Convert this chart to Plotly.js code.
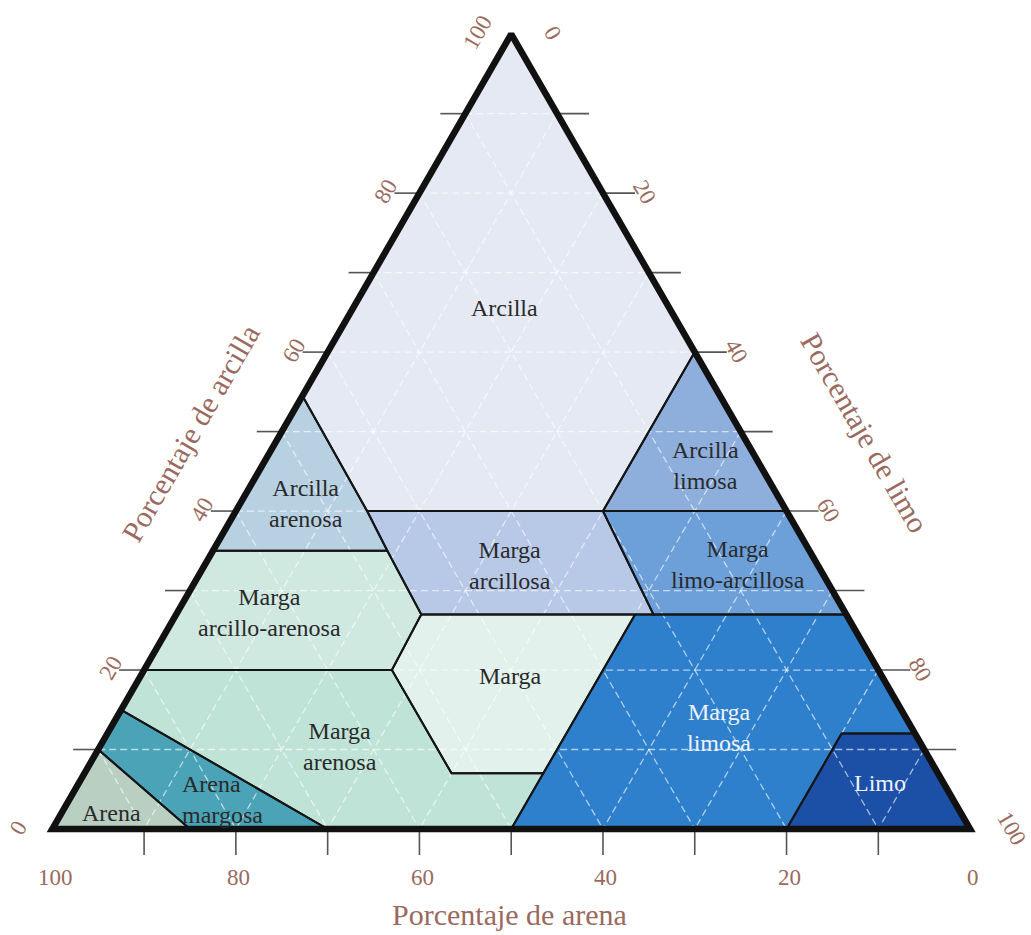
<!DOCTYPE html>
<html>
<head>
<meta charset="utf-8">
<script src="https://cdn.plot.ly/plotly-3.0.1.min.js"></script>
<style>html,body{margin:0;padding:0;background:#fff}#chart{width:1031px;height:935px}</style>
</head>
<body>
<div id="chart"></div>
<script>
// ---------- DATA: soil texture classes, vertices as (% arena, % arcilla); limo = 100 - arena - arcilla
const arcillaSand            = [45.5, 0, 0, 20, 45.7];
const arcillaClay            = [54.5, 100, 60, 40, 40];
const arcillaArenosaSand     = [45.5, 45.7, 46, 65];
const arcillaArenosaClay     = [54.5, 40, 35, 35];
const margaArcillosaSand     = [45.7, 20, 21, 23, 46.3, 46];
const margaArcillosaClay     = [40, 40, 27, 27, 27, 35];
const arcillaLimosaSand      = [20, 0, 0];
const arcillaLimosaClay      = [40, 60, 40];
const margaLimoArcillosaSand = [20, 0, 0, 21];
const margaLimoArcillosaClay = [40, 40, 27, 27];
const margaArcilloArenosaSand= [65, 46, 46.3, 53, 80];
const margaArcilloArenosaClay= [35, 35, 27, 20, 20];
const margaSand              = [46.3, 23, 43, 53, 53];
const margaClay              = [27, 27, 7, 7, 20];
const margaArenosaSand       = [80, 53, 53, 43, 50, 70, 85];
const margaArenosaClay       = [20, 20, 7, 7, 0, 0, 15];
const margaLimosaSand        = [23, 0, 0, 8, 20, 50, 43];
const margaLimosaClay        = [27, 27, 12, 12, 0, 0, 7];
const limoSand               = [8, 0, 0, 20];
const limoClay               = [12, 12, 0, 0];
const arenaMargosaSand       = [85, 70, 85, 90];
const arenaMargosaClay       = [15, 0, 0, 10];
const arenaSand              = [90, 85, 100];
const arenaClay              = [10, 0, 0];

const classLabels = ["Arcilla", "Arcilla<br>arenosa", "Marga<br>arcillosa", "Arcilla<br>limosa",
  "Marga<br>limo-arcillosa", "Marga<br>arcillo-arenosa", "Marga", "Marga<br>arenosa",
  "Marga<br>limosa", "Limo", "Arena<br>margosa", "Arena"];

// triangle corners (arena, arcilla)
const cornerSand = [100, 0, 0];
const cornerClay = [0, 0, 100];

const gridValues  = [10, 20, 30, 40, 50, 60, 70, 80, 90];
const tickValues  = [10, 20, 30, 40, 50, 60, 70, 80, 90];
const clayLabels  = [0, 20, 40, 60, 80, 100];
const siltLabels  = [0, 20, 40, 60, 80, 100];
const sandLabels  = [100, 80, 60, 40, 20, 0];

const titleSand = "Porcentaje de arena";
const titleClay = "Porcentaje de arcilla";
const titleSilt = "Porcentaje de limo";

// ---------- STYLE
const regions = [
  {sand: arcillaSand, clay: arcillaClay, color: "#e5e9f4", text: "#2a2a2a", at: [17.9, 65.6]},
  {sand: arcillaArenosaSand, clay: arcillaArenosaClay, color: "#b8d1e2", text: "#2a2a2a", at: [51.9, 40.9]},
  {sand: margaArcillosaSand, clay: margaArcillosaClay, color: "#b8c8e7", text: "#2a2a2a", at: [33.5, 33.2]},
  {sand: arcillaLimosaSand, clay: arcillaLimosaClay, color: "#8eaedc", text: "#2a2a2a", at: [6.0, 45.7]},
  {sand: margaLimoArcillosaSand, clay: margaLimoArcillosaClay, color: "#6d9fd9", text: "#2a2a2a", at: [8.6, 33.3]},
  {sand: margaArcilloArenosaSand, clay: margaArcilloArenosaClay, color: "#cfe8e0", text: "#2a2a2a", at: [62.7, 27.2]},
  {sand: margaSand, clay: margaClay, color: "#e2f1eb", text: "#2a2a2a", at: [40.5, 19.25]},
  {sand: margaArenosaSand, clay: margaArenosaClay, color: "#bfe3d6", text: "#2a2a2a", at: [63.4, 10.4]},
  {sand: margaLimosaSand, clay: margaLimosaClay, color: "#2f80cc", text: "#eef3fa", at: [21.0, 12.8]},
  {sand: limoSand, clay: limoClay, color: "#1c4fa6", text: "#eef3fa", at: [6.9, 5.8]},
  {sand: arenaMargosaSand, clay: arenaMargosaClay, color: "#4aa3b6", text: "#2a2a2a", at: [84.3, 3.65], left: true},
  {sand: arenaSand, clay: arenaClay, color: "#b8cfc2", text: "#2a2a2a", at: [92.5, 2.0]}
];

const PX = 9.178;                  // pixels per composition unit
const SQ = Math.sqrt(3) / 2;
const serif = "Liberation Serif, Times New Roman, serif";
const brown = "#9a6a60";

function px(sand, clay) { return 100 - sand - clay / 2; }
function py(clay) { return clay * SQ; }

const traces = [];

// fills
regions.forEach(r => {
  traces.push({
    type: "scatter", mode: "lines", fill: "toself", fillcolor: r.color,
    x: r.sand.map((s, i) => px(s, r.clay[i])),
    y: r.clay.map(c => py(c)),
    line: {width: 0, color: r.color}, hoverinfo: "skip"
  });
});

// dashed white grid
const gx = [], gy = [];
gridValues.forEach(v => {
  gx.push(px(100 - v, v), px(0, v), null); gy.push(py(v), py(v), null);           // arcilla
  gx.push(px(v, 100 - v), px(v, 0), null); gy.push(py(100 - v), py(0), null);     // arena
  gx.push(px(0, 100 - v), px(100 - v, 0), null); gy.push(py(100 - v), py(0), null); // limo
});
traces.push({type: "scatter", mode: "lines", x: gx, y: gy, hoverinfo: "skip",
  line: {color: "rgba(255,255,255,0.62)", width: 1.3, dash: "7px,4px"}});

// class boundaries
regions.forEach(r => {
  const s = r.sand.concat([r.sand[0]]), c = r.clay.concat([r.clay[0]]);
  traces.push({type: "scatter", mode: "lines", hoverinfo: "skip",
    x: s.map((v, i) => px(v, c[i])), y: c.map(v => py(v)),
    line: {color: "#151515", width: 2}});
});

// ticks
const tx = [], ty = [];
tickValues.forEach(v => {
  tx.push(px(100 - v, v), px(100 - v, v) - 25 / PX, null); ty.push(py(v), py(v), null);
  tx.push(px(0, 100 - v), px(0, 100 - v) + 32 / PX, null); ty.push(py(100 - v), py(100 - v), null);
  tx.push(px(v, 0), px(v, 0), null); ty.push(0, -26 / PX, null);
});
traces.push({type: "scatter", mode: "lines", x: tx, y: ty, hoverinfo: "skip",
  line: {color: "#555", width: 1.6}});

// outer triangle (start mid-edge so every corner is joined)
const ox = cornerSand.map((s, i) => px(s, cornerClay[i]));
const oy = cornerClay.map(c => py(c));
const mx = (ox[0] + ox[1]) / 2, my = (oy[0] + oy[1]) / 2;
traces.push({type: "scatter", mode: "lines", hoverinfo: "skip",
  x: [mx, ox[1], ox[2], ox[0], mx], y: [my, oy[1], oy[2], oy[0], my],
  line: {color: "#111", width: 6.5}});

// ---------- ANNOTATIONS
const ann = [];
regions.forEach((r, i) => {
  ann.push({x: px(r.at[0], r.at[1]), y: py(r.at[1]), text: classLabels[i], showarrow: false,
    xanchor: r.left ? "left" : "center", align: r.left ? "left" : "center", yanchor: "middle",
    font: {family: serif, size: 24, color: r.text}});
});
clayLabels.forEach(v => {
  ann.push({x: px(100 - v, v) - 34 / PX, y: py(v) + 2 / PX, text: String(v), showarrow: false,
    textangle: -60, xanchor: "center", yanchor: "middle", font: {family: serif, size: 23, color: brown}});
});
siltLabels.forEach(v => {
  ann.push({x: px(0, 100 - v) + 42 / PX, y: py(100 - v) + 1 / PX, text: String(v), showarrow: false,
    textangle: 60, xanchor: "center", yanchor: "middle", font: {family: serif, size: 23, color: brown}});
});
sandLabels.forEach(v => {
  ann.push({x: px(v, 0) + 3 / PX, y: -48 / PX, text: String(v), showarrow: false,
    xanchor: "center", yanchor: "middle", font: {family: serif, size: 23, color: brown}});
});
ann.push({xref: "paper", yref: "paper", x: 509 / 1031, y: 1 - 914 / 935, text: titleSand, showarrow: false,
  xanchor: "center", yanchor: "middle", font: {family: serif, size: 30, color: brown}});
ann.push({xref: "paper", yref: "paper", x: 190 / 1031, y: 1 - 433 / 935, text: titleClay, showarrow: false,
  textangle: -60, xanchor: "center", yanchor: "middle", font: {family: serif, size: 30, color: brown}});
ann.push({xref: "paper", yref: "paper", x: 865 / 1031, y: 1 - 432 / 935, text: titleSilt, showarrow: false,
  textangle: 60, xanchor: "center", yanchor: "middle", font: {family: serif, size: 30, color: brown}});

const layout = {
  width: 1031, height: 935,
  margin: {l: 0, r: 0, t: 0, b: 0, pad: 0},
  paper_bgcolor: "#ffffff", plot_bgcolor: "#ffffff",
  showlegend: false, hovermode: false,
  xaxis: {range: [-52.3 / PX, (1031 - 52.3) / PX], visible: false, fixedrange: true},
  yaxis: {range: [(829 - 935) / PX, 829 / PX], visible: false, fixedrange: true},
  annotations: ann
};

Plotly.newPlot("chart", traces, layout, {displayModeBar: false, staticPlot: true});
</script>
</body>
</html>
